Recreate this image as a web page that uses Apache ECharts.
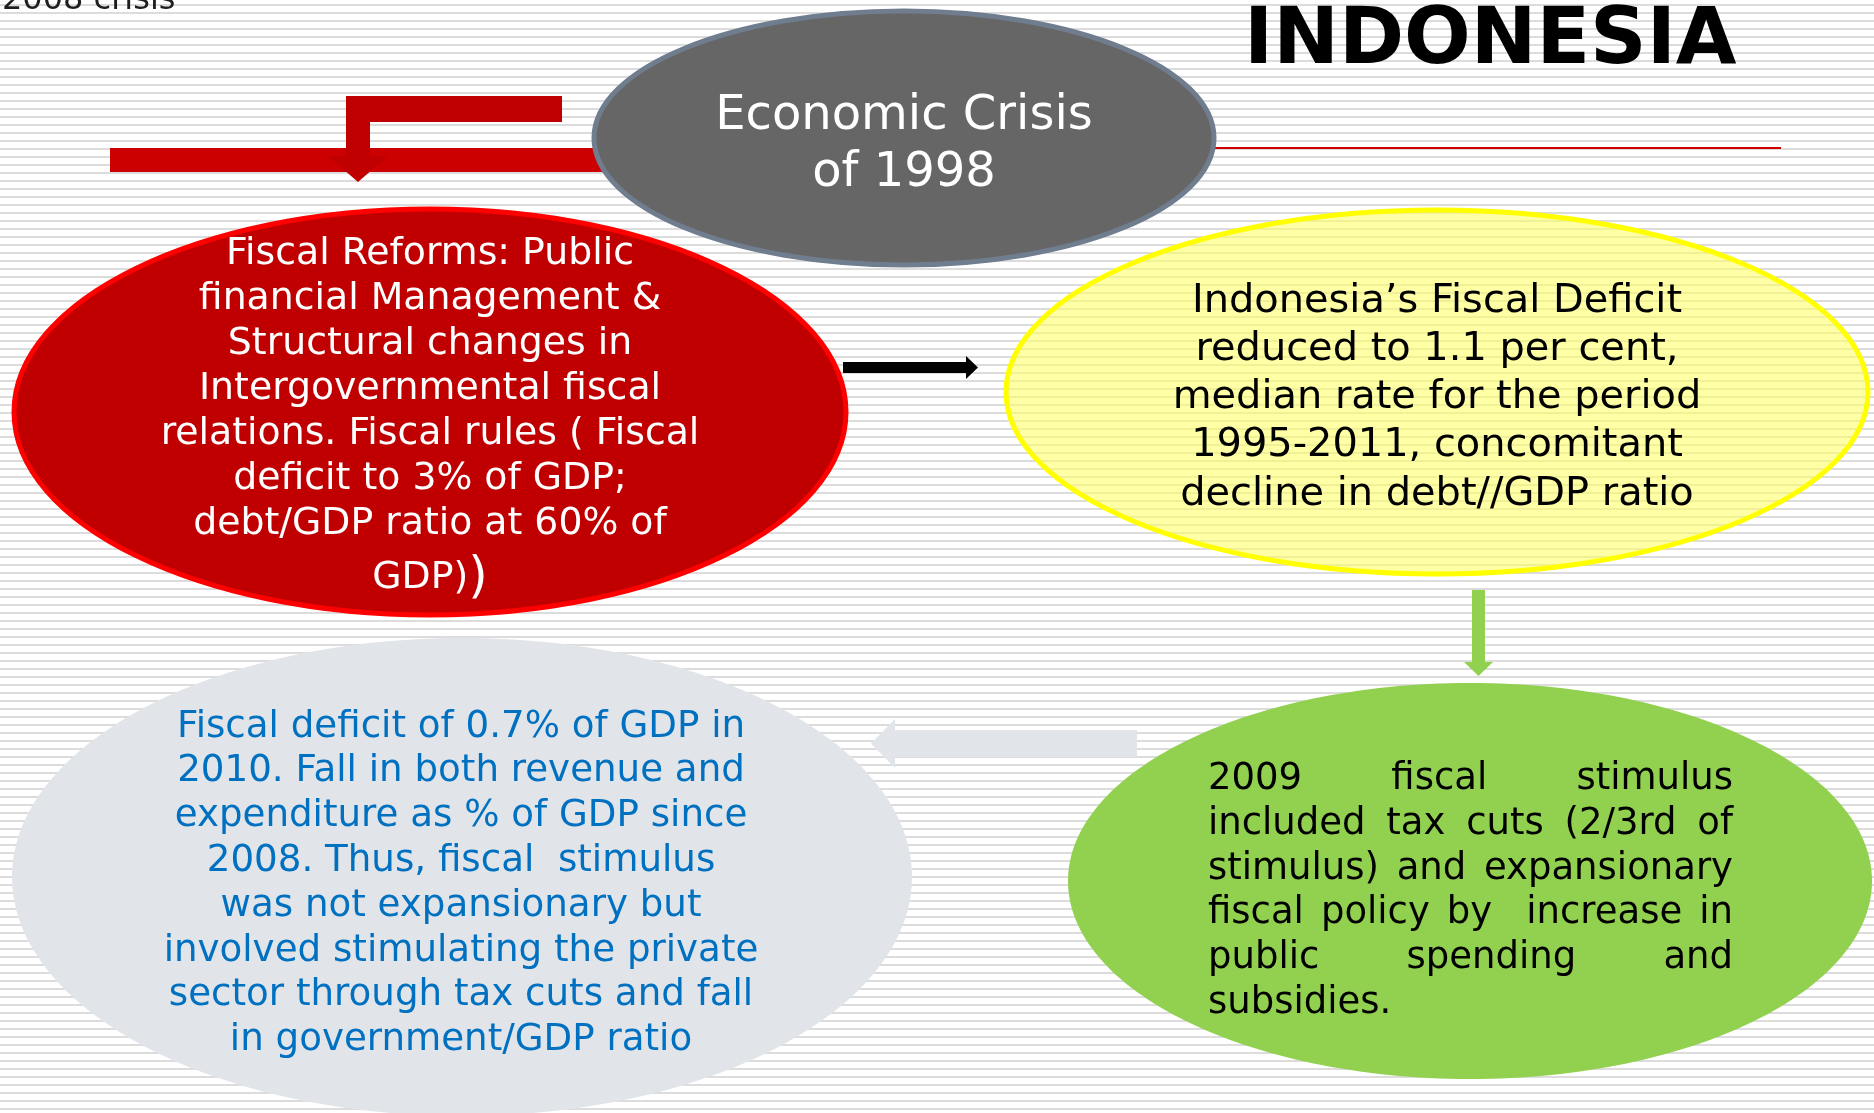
<!DOCTYPE html>
<html><head><meta charset="utf-8">
<script src="https://cdn.jsdelivr.net/npm/echarts@6/dist/echarts.min.js"></script>
<style>html,body{margin:0;padding:0;background:#fff}#c{width:1874px;height:1113px}</style>
</head><body><div id="c"></div>
<script>
// ---- content ----
const cornerNote = '2008 crisis';
const countryTitle = 'INDONESIA';
const crisisLines = ['Economic Crisis', 'of 1998'];
const reformLines = [
  'Fiscal Reforms: Public',
  'financial Management &',
  'Structural changes in',
  'Intergovernmental fiscal',
  'relations. Fiscal rules ( Fiscal',
  'deficit to 3% of GDP;',
  'debt/GDP ratio at 60% of'
];
const reformLast = ['GDP)', ')'];
const deficitLines = [
  'Indonesia\u2019s Fiscal Deficit',
  'reduced to 1.1 per cent,',
  'median rate for the period',
  '1995-2011, concomitant',
  'decline in debt//GDP ratio'
];
const stimulusLines = [
  '2009 fiscal stimulus',
  'included tax cuts (2/3rd of',
  'stimulus) and expansionary',
  'fiscal policy by  increase in',
  'public spending and',
  'subsidies.'
];
const outcomeLines = [
  'Fiscal deficit of 0.7% of GDP in',
  '2010. Fall in both revenue and',
  'expenditure as % of GDP since',
  '2008. Thus, fiscal  stimulus',
  'was not expansionary but',
  'involved stimulating the private',
  'sector through tax cuts and fall',
  'in government/GDP ratio'
];

// ---- layout ----
const FF = '"DejaVu Sans", Verdana, sans-serif';
const font = (s, w) => (w || 'normal') + ' ' + s + 'px ' + FF;
const mctx = document.createElement('canvas').getContext('2d');
function measure(t, f) { mctx.font = f; return mctx.measureText(t).width; }
const MID = 0.215; // baseline -> middle offset (em)

const els = [];
// striped background
for (let y = 4; y < 1113; y += 8) {
  els.push({type: 'rect', silent: true, shape: {x: 0, y: y, width: 1874, height: 2}, style: {fill: '#dcdcdc'}});
}
function textLine(t, x, baseline, size, fill, align, weight) {
  els.push({type: 'text', x: x, y: baseline - MID * size, silent: true,
    style: {text: t, fill: fill, font: font(size, weight), align: align || 'center', textAlign: align || 'center',
      verticalAlign: 'middle', textVerticalAlign: 'middle'}});
}
function block(lines, cx, base0, lh, size, fill) {
  lines.forEach((t, i) => textLine(t, cx, base0 + i * lh, size, fill, 'center'));
}
function justified(lines, left, right, base0, lh, size, fill) {
  const f = font(size);
  const sp = measure(' ', f);
  lines.forEach((line, i) => {
    const base = base0 + i * lh;
    const toks = line.split(' ');
    if (i === lines.length - 1 || toks.length < 2) { textLine(line, left, base, size, fill, 'left'); return; }
    const extra = (right - left - measure(line, f)) / (toks.length - 1);
    let x = left;
    toks.forEach(tk => {
      if (tk) textLine(tk, x, base, size, fill, 'left');
      x += measure(tk, f) + sp + extra;
    });
  });
}

// corner note & title
textLine(cornerNote, 2, 8, 32, '#1e1e1e', 'left');
textLine(countryTitle, 1244, 59, 78.5, '#000', 'left', 'bold');

// red connectors at top
els.push({type: 'rect', silent: true, shape: {x: 110, y: 148, width: 600, height: 24}, style: {fill: '#cc0000'}});
els.push({type: 'line', silent: true, shape: {x1: 900, y1: 148, x2: 1781, y2: 148}, style: {stroke: '#cc0000', lineWidth: 2}});
els.push({type: 'polygon', silent: true, shape: {points: [[562,96],[346,96],[346,156],[328,156],[358,182],[388,156],[370,156],[370,122],[562,122]]}, style: {fill: '#c00000'}});

// central crisis ellipse
els.push({type: 'ellipse', silent: true, shape: {cx: 904, cy: 138, rx: 310, ry: 127}, style: {fill: '#666666', stroke: '#6f7d8e', lineWidth: 5}});
block(crisisLines, 904, 126.5, 57, 48, '#ffffff');

// red reform ellipse
els.push({type: 'ellipse', silent: true, shape: {cx: 430, cy: 412, rx: 416, ry: 203}, style: {fill: '#c00000', stroke: '#ff0000', lineWidth: 5}});
block(reformLines, 430, 262, 45, 37.8, '#ffffff');
(function () {
  const w1 = measure(reformLast[0], font(37.8)), w2 = measure(reformLast[1], font(50));
  const x0 = 430 - (w1 + w2) / 2;
  textLine(reformLast[0], x0, 586, 37.8, '#ffffff', 'left');
  textLine(reformLast[1], x0 + w1, 590, 50, '#ffffff', 'left');
})();

// yellow deficit ellipse
els.push({type: 'ellipse', silent: true, shape: {cx: 1437, cy: 392, rx: 431, ry: 182}, style: {fill: 'rgba(255,255,102,0.58)', stroke: '#ffff00', lineWidth: 5}});
block(deficitLines, 1437, 310, 48.2, 39.9, '#000000');

// black arrow red -> yellow
els.push({type: 'rect', silent: true, shape: {x: 843, y: 362, width: 125, height: 11}, style: {fill: '#000'}});
els.push({type: 'polygon', silent: true, shape: {points: [[966,356],[978,367.5],[966,379]]}, style: {fill: '#000'}});

// green arrow yellow -> green
els.push({type: 'rect', silent: true, shape: {x: 1472, y: 590, width: 13, height: 73}, style: {fill: '#92d050'}});
els.push({type: 'polygon', silent: true, shape: {points: [[1464,662],[1493,662],[1478.5,676]]}, style: {fill: '#92d050'}});

// light arrow green -> grey
els.push({type: 'rect', silent: true, shape: {x: 893, y: 730, width: 244, height: 27}, style: {fill: '#e1e4e9'}});
els.push({type: 'polygon', silent: true, shape: {points: [[895,719],[871,743.5],[895,768]]}, style: {fill: '#e1e4e9'}});

// grey outcome ellipse
els.push({type: 'ellipse', silent: true, shape: {cx: 462, cy: 877, rx: 450, ry: 239}, style: {fill: '#e1e4e9'}});
block(outcomeLines, 461, 735, 44.8, 37.2, '#0070c0');

// green stimulus ellipse
els.push({type: 'ellipse', silent: true, shape: {cx: 1470, cy: 881, rx: 402, ry: 198}, style: {fill: '#92d050'}});
justified(stimulusLines, 1208, 1733, 787.5, 44.7, 37, '#000000');

const chart = echarts.init(document.getElementById('c'), null, {renderer: 'canvas'});
chart.setOption({animation: false, backgroundColor: '#ffffff', graphic: {elements: els}});
</script></body></html>
